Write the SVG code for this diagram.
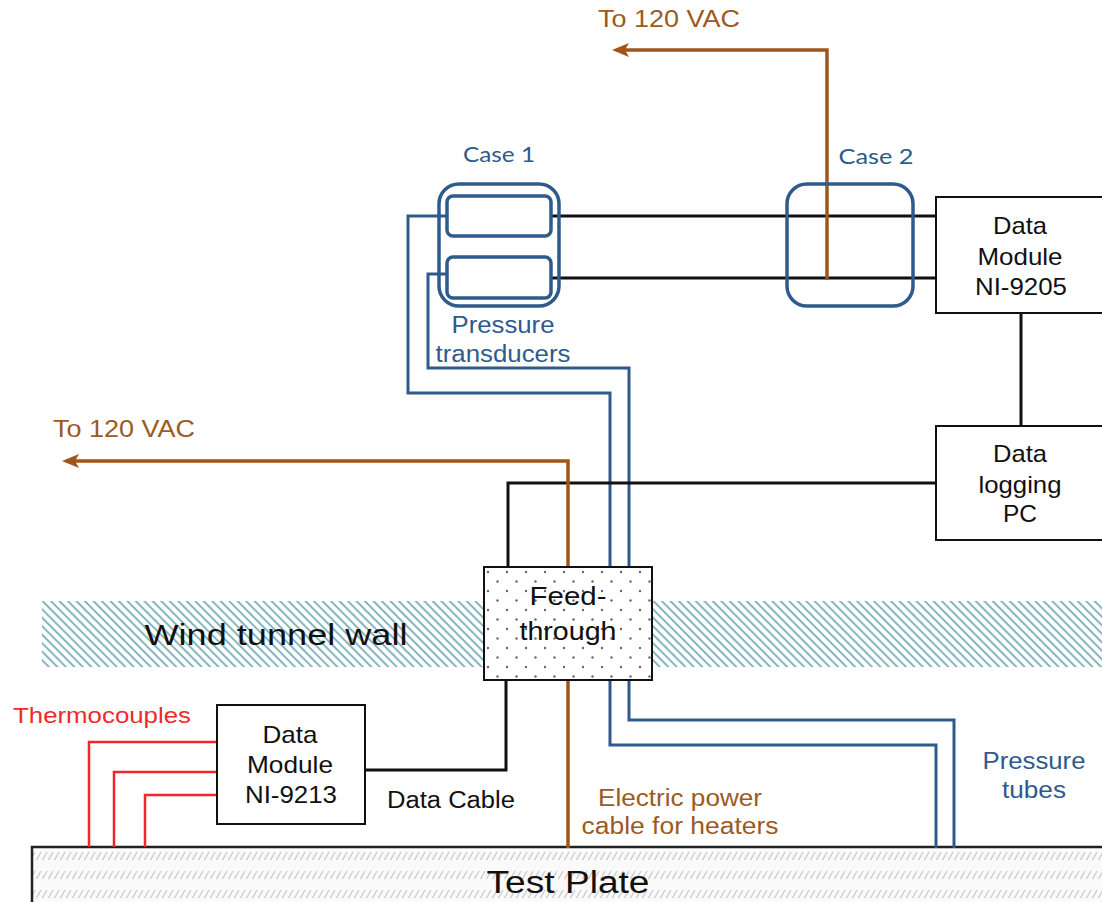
<svg xmlns="http://www.w3.org/2000/svg" width="1102" height="902" viewBox="0 0 1102 902">
<defs>
<style>
.t{font-family:"Liberation Sans",Arial,sans-serif;text-anchor:middle}
.blk{fill:#111}
.blu{fill:#2f5a8c}
.org{fill:#9c5a22}
.red{fill:#ee2a2a}
.box{fill:#fff;stroke:#111;stroke-width:2}
.wb{fill:none;stroke:#111;stroke-width:3}
.wbl{fill:none;stroke:#2f5a8c;stroke-width:3}
.wo{fill:none;stroke:#a0561a;stroke-width:3.5}
.wr{fill:none;stroke:#f0262a;stroke-width:2.5}
.case{fill:none;stroke:#2f5a8c;stroke-width:3.5}
</style>
<marker id="arr" markerWidth="18" markerHeight="16" refX="13" refY="7" orient="auto" markerUnits="userSpaceOnUse">
<path d="M0,0 L17,7 L0,14 L4,7 Z" fill="#a0561a"/>
</marker>
<pattern id="hatch" width="6" height="6" patternUnits="userSpaceOnUse" patternTransform="rotate(-45)">
<line x1="1" y1="0" x2="1" y2="6" stroke="#86b6bf" stroke-width="2"/>
</pattern>
<pattern id="plate" x="0" y="846" width="6" height="19" patternUnits="userSpaceOnUse">
<line x1="0.5" y1="14" x2="5" y2="6" stroke="#cccccc" stroke-width="1.4"/>
</pattern>
<pattern id="dots" x="483" y="567" width="19" height="19" patternUnits="userSpaceOnUse">
<circle cx="5" cy="5" r="1.2" fill="#666"/>
<circle cx="14.5" cy="14.5" r="1.2" fill="#666"/>
</pattern>
</defs>
<rect width="1102" height="902" fill="#fff"/>

<g id="wind-tunnel-wall">
<rect x="42" y="601" width="1060" height="66" fill="url(#hatch)"/>
<text class="t blk" x="276" y="645" font-size="30" textLength="263" lengthAdjust="spacingAndGlyphs">Wind tunnel wall</text>
</g>

<g id="test-plate">
<rect x="32" y="847" width="1080" height="70" fill="#fafafa" stroke="none"/>
<rect x="32" y="847" width="1080" height="70" fill="url(#plate)" stroke="#222" stroke-width="2.5"/>
<text class="t blk" x="568" y="893" font-size="31" textLength="163" lengthAdjust="spacingAndGlyphs">Test Plate</text>
</g>

<g id="connectors">
<path class="wbl" d="M447,274 H428 V368 H629 V720 H954 V848"/>
<path class="wbl" d="M447,216 H408 V393 H610 V745 H936 V848"/>
<path class="wb" d="M552,216 H936"/>
<path class="wb" d="M552,278 H936"/>
<path class="wb" d="M1021,313 V426"/>
<path class="wb" d="M936,483 H508 V567"/>
<path class="wb" d="M506,681 V770 H365"/>
<path class="wo" d="M827,280 V50 H616" marker-end="url(#arr)"/>
<path class="wo" d="M568,848 V461 H66" marker-end="url(#arr)"/>
<path class="wr" d="M217,742 H89 V847"/>
<path class="wr" d="M217,772 H114 V847"/>
<path class="wr" d="M217,795 H145 V847"/>
</g>

<g id="case-1">
<rect class="case" x="439" y="184" width="120" height="122" rx="20"/>
<rect class="case" x="447" y="196" width="104" height="40" rx="6"/>
<rect class="case" x="447" y="257" width="104" height="41" rx="6"/>
<text x="499" y="162" font-family="Lato,'Open Sans',sans-serif" font-size="21" fill="#2f5a8c" text-anchor="middle" textLength="72" lengthAdjust="spacingAndGlyphs">Case 1</text>
<text class="t blu" x="503" y="333" font-size="23" textLength="103" lengthAdjust="spacingAndGlyphs">Pressure</text>
<text class="t blu" x="503" y="362" font-size="23" textLength="135" lengthAdjust="spacingAndGlyphs">transducers</text>
</g>

<g id="case-2">
<rect class="case" x="787" y="184" width="126" height="122" rx="20"/>
<text x="876" y="164" font-family="Lato,'Open Sans',sans-serif" font-size="21" fill="#2f5a8c" text-anchor="middle" textLength="75" lengthAdjust="spacingAndGlyphs">Case 2</text>
</g>

<g id="data-module-ni9205">
<rect class="box" x="936" y="197" width="180" height="116"/>
<text class="t blk" x="1020" y="234" font-size="24" textLength="54" lengthAdjust="spacingAndGlyphs">Data</text>
<text class="t blk" x="1020" y="265" font-size="24" textLength="85" lengthAdjust="spacingAndGlyphs">Module</text>
<text class="t blk" x="1021" y="295" font-size="24" textLength="92" lengthAdjust="spacingAndGlyphs">NI-9205</text>
</g>

<g id="data-logging-pc">
<rect class="box" x="936" y="426" width="180" height="114"/>
<text class="t blk" x="1020" y="462" font-size="24" textLength="54" lengthAdjust="spacingAndGlyphs">Data</text>
<text class="t blk" x="1020" y="493" font-size="24" textLength="83" lengthAdjust="spacingAndGlyphs">logging</text>
<text class="t blk" x="1020" y="522" font-size="24" textLength="34" lengthAdjust="spacingAndGlyphs">PC</text>
</g>

<g id="feed-through">
<rect x="484" y="567" width="168" height="113" fill="#fff" stroke="none"/>
<rect x="484" y="567" width="168" height="113" fill="url(#dots)" stroke="#111" stroke-width="2"/>
<text class="t blk" x="568" y="605" font-size="25" textLength="77" lengthAdjust="spacingAndGlyphs">Feed-</text>
<text class="t blk" x="568" y="640" font-size="25" textLength="97" lengthAdjust="spacingAndGlyphs">through</text>
</g>

<g id="data-module-ni9213">
<rect class="box" x="217" y="705" width="148" height="119"/>
<text class="t blk" x="290" y="743" font-size="24" textLength="55" lengthAdjust="spacingAndGlyphs">Data</text>
<text class="t blk" x="290" y="773" font-size="24" textLength="86" lengthAdjust="spacingAndGlyphs">Module</text>
<text class="t blk" x="291" y="803" font-size="24" textLength="92" lengthAdjust="spacingAndGlyphs">NI-9213</text>
</g>

<g id="labels">
<text class="t org" x="669" y="27" font-size="24" textLength="142" lengthAdjust="spacingAndGlyphs">To 120 VAC</text>
<text class="t org" x="124" y="437" font-size="24" textLength="142" lengthAdjust="spacingAndGlyphs">To 120 VAC</text>
<text class="t red" x="102" y="723" font-size="22" textLength="178" lengthAdjust="spacingAndGlyphs">Thermocouples</text>
<text class="t blk" x="451" y="808" font-size="23" textLength="128" lengthAdjust="spacingAndGlyphs">Data Cable</text>
<text class="t org" x="680" y="806" font-size="23" textLength="164" lengthAdjust="spacingAndGlyphs">Electric power</text>
<text class="t org" x="680" y="834" font-size="23" textLength="197" lengthAdjust="spacingAndGlyphs">cable for heaters</text>
<text class="t blu" x="1034" y="769" font-size="23" textLength="103" lengthAdjust="spacingAndGlyphs">Pressure</text>
<text class="t blu" x="1034" y="798" font-size="23" textLength="64" lengthAdjust="spacingAndGlyphs">tubes</text>
</g>
</svg>
